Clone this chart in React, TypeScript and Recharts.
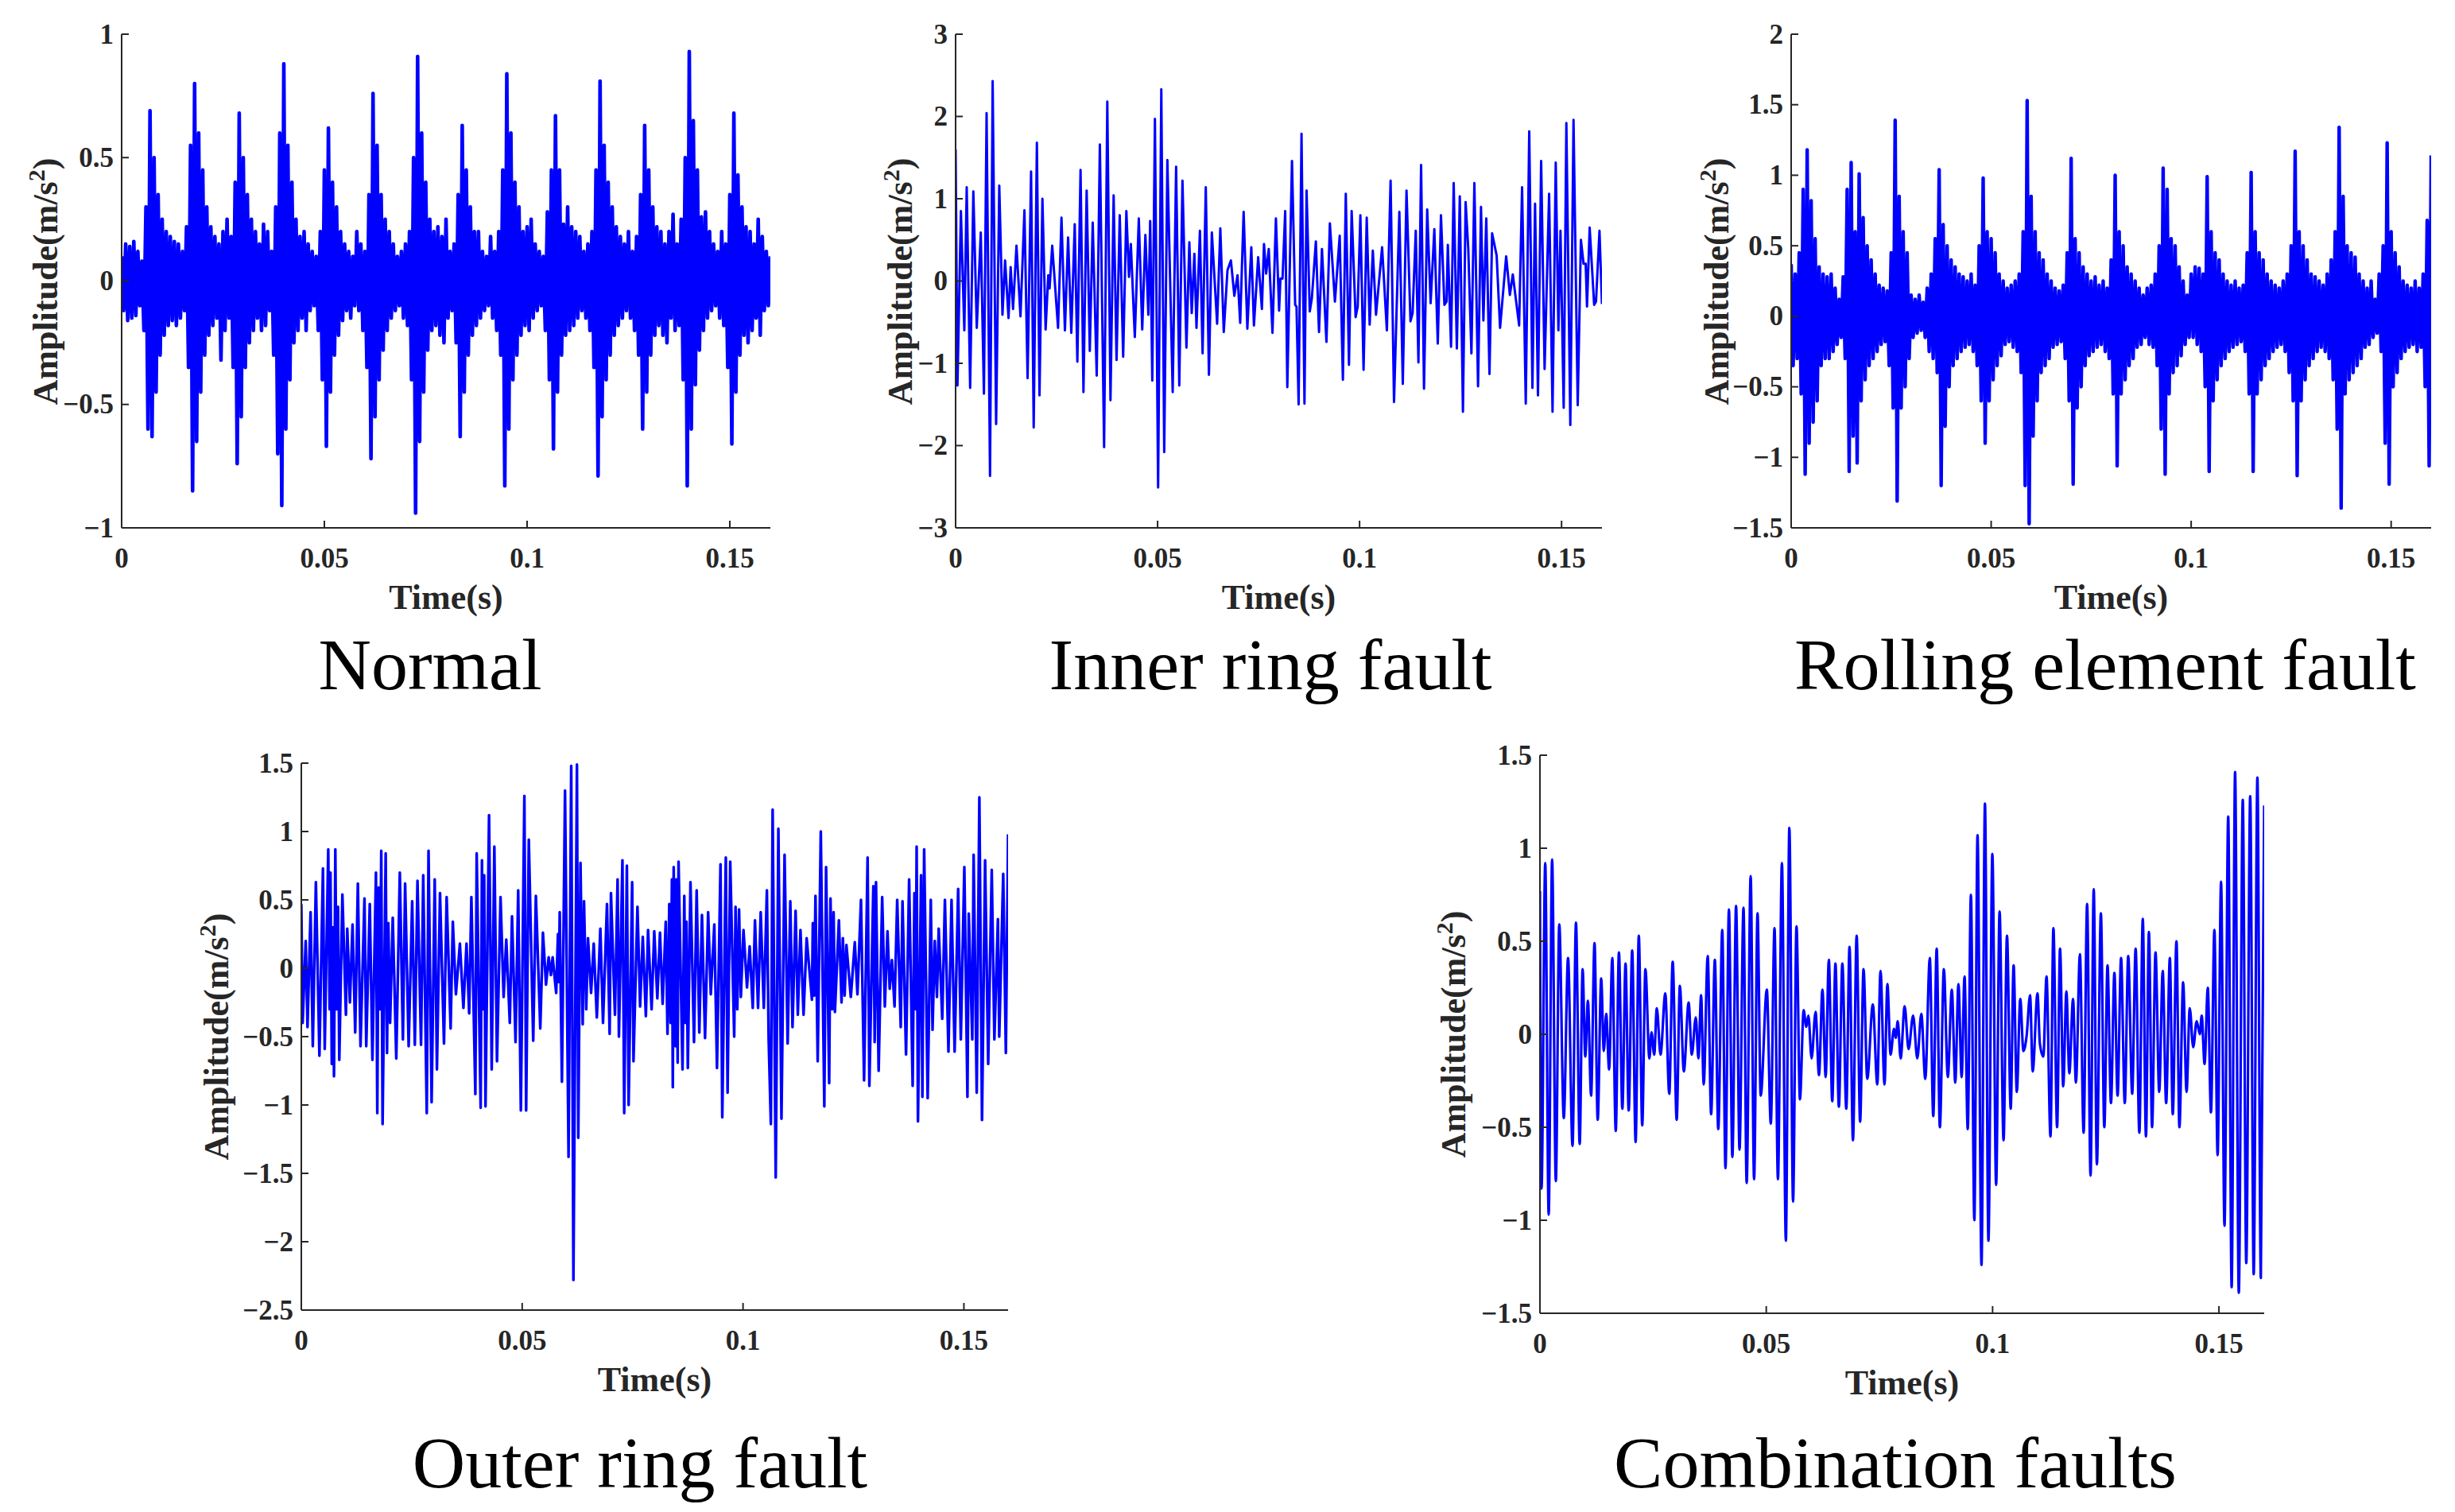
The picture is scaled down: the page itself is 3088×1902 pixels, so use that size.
import React from "react";
import { LineChart, Line, XAxis, YAxis } from "recharts";

const FONT = '"Liberation Serif", "Times New Roman", Times, serif';
const INK = "#262626";
const BLUE = "#0000ff";

const X_TICKS = [0, 0.05, 0.1, 0.15];

// Normal: positive swings on whole ms, negative swings half a ms later
const NORMAL_UP = [
  0.1, 0.15, 0.14, 0.16, 0.12, 0.08, 0.3, 0.69, 0.5, 0.35,
  0.25, 0.2, 0.18, 0.16, 0.15, 0.12, 0.22, 0.55, 0.8, 0.6,
  0.45, 0.3, 0.22, 0.18, 0.15, 0.2, 0.25, 0.18, 0.4, 0.68,
  0.5, 0.35, 0.25, 0.2, 0.15, 0.23, 0.2, 0.12, 0.3, 0.6,
  0.88, 0.55, 0.4, 0.25, 0.18, 0.2, 0.15, 0.12, 0.1, 0.2,
  0.45, 0.62, 0.4, 0.3, 0.2, 0.15, 0.12, 0.1, 0.2, 0.15,
  0.12, 0.35, 0.76, 0.55, 0.35, 0.25, 0.2, 0.15, 0.1, 0.12,
  0.15, 0.2, 0.5, 0.91, 0.6, 0.4, 0.25, 0.2, 0.22, 0.18,
  0.25, 0.12, 0.15, 0.35, 0.63, 0.45, 0.3, 0.2, 0.2, 0.12,
  0.1, 0.18, 0.12, 0.2, 0.45, 0.84, 0.6, 0.4, 0.3, 0.2,
  0.22, 0.25, 0.15, 0.12, 0.1, 0.28, 0.45, 0.67, 0.45, 0.23,
  0.3, 0.22, 0.2, 0.18, 0.12, 0.15, 0.2, 0.45, 0.81, 0.55,
  0.4, 0.3, 0.22, 0.18, 0.15, 0.2, 0.12, 0.18, 0.35, 0.63,
  0.45, 0.3, 0.22, 0.2, 0.15, 0.2, 0.27, 0.15, 0.25, 0.5,
  0.93, 0.65, 0.45, 0.26, 0.28, 0.2, 0.15, 0.12, 0.2, 0.15,
  0.35, 0.68, 0.43, 0.3, 0.22, 0.2, 0.15, 0.25, 0.18, 0.12,
  0.1,
];
const NORMAL_DOWN = [
  -0.12, -0.16, -0.15, -0.14, -0.1, -0.2, -0.6, -0.63, -0.45, -0.3,
  -0.22, -0.18, -0.16, -0.18, -0.15, -0.12, -0.35, -0.85, -0.65, -0.45,
  -0.3, -0.22, -0.18, -0.15, -0.32, -0.2, -0.15, -0.35, -0.74, -0.55,
  -0.35, -0.25, -0.2, -0.15, -0.2, -0.18, -0.12, -0.3, -0.7, -0.91,
  -0.6, -0.4, -0.25, -0.2, -0.15, -0.2, -0.12, -0.1, -0.2, -0.4,
  -0.67, -0.45, -0.3, -0.22, -0.16, -0.12, -0.15, -0.1, -0.12, -0.2,
  -0.35, -0.72, -0.55, -0.4, -0.28, -0.2, -0.15, -0.12, -0.1, -0.15,
  -0.18, -0.4, -0.94, -0.65, -0.45, -0.28, -0.2, -0.18, -0.22, -0.25,
  -0.15, -0.12, -0.25, -0.63, -0.45, -0.3, -0.22, -0.18, -0.15, -0.12,
  -0.1, -0.15, -0.2, -0.3, -0.83, -0.6, -0.4, -0.3, -0.22, -0.18,
  -0.2, -0.15, -0.12, -0.1, -0.2, -0.4, -0.68, -0.45, -0.3, -0.22,
  -0.2, -0.18, -0.15, -0.12, -0.15, -0.2, -0.35, -0.79, -0.55, -0.4,
  -0.3, -0.22, -0.18, -0.15, -0.12, -0.15, -0.2, -0.3, -0.6, -0.45,
  -0.3, -0.22, -0.18, -0.22, -0.25, -0.15, -0.2, -0.18, -0.4, -0.83,
  -0.6, -0.42, -0.28, -0.2, -0.15, -0.12, -0.1, -0.15, -0.18, -0.35,
  -0.66, -0.45, -0.3, -0.22, -0.25, -0.2, -0.15, -0.22, -0.12, -0.1,
];

const ROLLING_UP = [
  0.37, 0.3, 0.45, 0.9, 1.18, 0.82, 0.55, 0.35, 0.3, 0.28,
  0.3, 0.2, 0.12, 0.28, 0.9, 1.09, 0.6, 1.01, 0.7, 0.5,
  0.4, 0.3, 0.22, 0.2, 0.18, 0.45, 1.39, 0.85, 0.6, 0.45,
  0.15, 0.12, 0.15, 0.1, 0.2, 0.3, 0.55, 1.04, 0.65, 0.5,
  0.4, 0.35, 0.3, 0.28, 0.25, 0.3, 0.22, 0.5, 0.98, 0.6,
  0.55, 0.45, 0.3, 0.25, 0.2, 0.22, 0.25, 0.3, 0.6, 1.53,
  0.85, 0.6, 0.45, 0.4, 0.3, 0.25, 0.2, 0.18, 0.22, 0.45,
  1.12, 0.55, 0.45, 0.35, 0.3, 0.25, 0.28, 0.22, 0.25, 0.2,
  0.4, 1.0, 0.6, 0.5, 0.35, 0.3, 0.25, 0.2, 0.15, 0.2,
  0.22, 0.3, 0.5, 1.05, 0.9, 0.55, 0.5, 0.35, 0.25, 0.15,
  0.3, 0.35, 0.34, 0.3, 0.99, 0.6, 0.45, 0.4, 0.3, 0.25,
  0.22, 0.25, 0.2, 0.22, 0.45, 1.02, 0.6, 0.45, 0.4, 0.3,
  0.25, 0.22, 0.2, 0.25, 0.3, 0.5, 1.17, 0.6, 0.5, 0.4,
  0.3, 0.28, 0.25, 0.22, 0.3, 0.4, 0.6, 1.34, 0.85, 0.5,
  0.45, 0.42, 0.3, 0.25, 0.2, 0.25, 0.12, 0.3, 0.5, 1.23,
  0.6, 0.45, 0.35, 0.25, 0.22, 0.2, 0.25, 0.2, 0.3, 0.68,
  1.14,
];
const ROLLING_DOWN = [
  -0.35, -0.3, -0.55, -1.12, -0.9, -0.75, -0.6, -0.35, -0.3, -0.3,
  -0.25, -0.2, -0.15, -0.3, -1.1, -0.85, -1.04, -0.6, -0.45, -0.35,
  -0.3, -0.25, -0.2, -0.18, -0.35, -0.65, -1.31, -0.65, -0.5, -0.3,
  -0.15, -0.12, -0.1, -0.15, -0.25, -0.3, -0.4, -1.2, -0.78, -0.5,
  -0.35, -0.3, -0.25, -0.22, -0.2, -0.25, -0.35, -0.6, -0.9, -0.6,
  -0.45, -0.35, -0.28, -0.2, -0.18, -0.22, -0.25, -0.4, -1.2, -1.47,
  -0.85, -0.6, -0.4, -0.35, -0.3, -0.22, -0.2, -0.18, -0.3, -0.6,
  -1.19, -0.65, -0.5, -0.35, -0.28, -0.25, -0.22, -0.2, -0.25, -0.3,
  -0.55, -1.06, -0.55, -0.45, -0.35, -0.3, -0.22, -0.2, -0.15, -0.2,
  -0.22, -0.35, -0.8, -1.12, -0.55, -0.4, -0.35, -0.28, -0.2, -0.15,
  -0.15, -0.2, -0.25, -0.5, -1.1, -0.6, -0.45, -0.35, -0.3, -0.25,
  -0.22, -0.2, -0.18, -0.25, -0.55, -1.1, -0.55, -0.45, -0.35, -0.3,
  -0.25, -0.22, -0.2, -0.25, -0.4, -0.6, -1.13, -0.6, -0.45, -0.35,
  -0.3, -0.25, -0.22, -0.25, -0.3, -0.45, -0.8, -1.36, -0.55, -0.45,
  -0.4, -0.35, -0.3, -0.22, -0.2, -0.15, -0.12, -0.25, -0.9, -1.19,
  -0.5, -0.4, -0.3, -0.25, -0.22, -0.2, -0.25, -0.22, -0.5, -1.06,
];

// [time ms, amplitude] turning points
const INNER = [
  [0, 1.6], [0.46, -1.27], [1.31, 0.85], [2.16, -0.6], [2.75, 1.14], [3.6, -1.3], [4.39, 1.09], [5.24, -0.57], [6.23, 0.59], [7.01, -1.37],
  [7.67, 2.04], [8.52, -2.37], [9.17, 2.43], [10.03, -1.74], [10.81, 1.16], [11.6, -0.41], [12.25, 0.25], [13.1, -0.45], [13.63, 0.17], [14.22, -0.34],
  [15.07, 0.43], [16.06, -0.43], [17.04, 0.86], [17.82, -1.18], [18.68, 1.33], [19.33, -1.78], [20.12, 1.68], [20.77, -1.39], [21.49, 1.0], [22.28, -0.59],
  [22.94, 0.07], [23.26, -0.09], [23.92, 0.43], [25.36, -0.57], [26.21, 0.77], [27.06, -0.6], [27.85, 0.53], [28.64, -0.63], [29.49, 0.69], [30.14, -0.98],
  [30.93, 1.35], [31.65, -1.35], [32.44, 1.1], [33.22, -0.85], [33.94, 0.71], [34.93, -1.15], [35.71, 1.66], [36.76, -2.02], [37.55, 2.18], [38.34, -1.45],
  [39.12, 1.04], [39.84, -0.96], [40.63, 0.8], [41.48, -0.92], [42.27, 0.85], [42.92, 0.05], [43.38, 0.45], [44.36, -0.68], [45.35, 0.76], [46.2, -0.59],
  [46.98, 0.56], [47.71, -0.41], [48.17, 0.73], [48.69, -1.21], [49.34, 1.97], [50.13, -2.51], [50.92, 2.33], [51.64, -2.08], [52.42, 1.47], [53.74, -1.35],
  [54.59, 1.39], [55.37, -1.27], [56.16, 1.22], [57.14, -0.81], [57.86, 0.47], [58.45, -0.39], [59.11, 0.33], [59.63, -0.57], [60.48, 0.61], [61.14, -0.88],
  [61.93, 1.14], [62.71, -1.14], [63.43, 0.59], [64.74, -0.52], [65.53, 0.64], [66.38, -0.62], [67.3, 0.13], [68.15, 0.25], [69.0, -0.18], [69.79, 0.07],
  [70.45, -0.51], [71.3, 0.84], [72.22, -0.58], [73.2, 0.41], [73.85, -0.54], [74.9, 0.29], [75.82, -0.34], [76.34, 0.45], [76.87, 0.09], [77.52, 0.39],
  [78.44, -0.63], [79.29, 0.76], [80.08, -0.36], [80.41, 0.03], [80.93, 0.03], [81.59, 0.85], [82.11, -1.29], [83.27, 1.46], [84.06, -0.29], [84.39, -0.31],
  [84.91, -1.5], [85.63, 1.79], [86.36, -1.49], [86.88, 1.1], [87.67, -0.37], [88.19, -0.21], [89.18, 0.48], [89.96, -0.62], [90.69, 0.39], [91.8, -0.74],
  [92.65, 0.7], [93.9, -0.25], [95.08, 0.55], [95.87, -1.2], [96.59, 1.06], [97.38, -1.02], [98.04, 0.85], [99.02, -0.44], [99.54, -0.31], [100.2, 0.8],
  [100.99, -1.08], [101.77, 0.77], [102.5, -0.53], [103.28, 0.37], [104.07, -0.41], [105.58, 0.41], [106.76, -0.6], [107.68, 1.22], [108.53, -1.47], [109.85, 0.84],
  [110.7, -1.25], [111.62, 1.1], [112.6, -0.49], [113.13, -0.39], [113.91, 0.61], [114.57, -0.99], [115.23, 1.41], [115.95, -1.31], [116.74, 0.87], [117.59, -0.27],
  [118.51, 0.63], [119.36, -0.76], [120.15, 0.8], [121.0, -0.29], [121.53, -0.25], [121.85, 0.44], [122.64, -0.8], [123.3, 1.19], [124.08, -0.82], [124.81, 1.03],
  [125.59, -1.59], [126.25, 0.96], [126.91, 0.39], [127.69, -0.88], [128.42, 1.19], [129.33, -1.28], [130.06, 0.9], [130.65, -0.48], [131.37, 0.76], [132.16, -1.13],
  [132.81, 0.58], [133.93, 0.31], [134.78, -0.57], [136.29, 0.3], [137.21, -0.17], [137.93, 0.08], [139.5, -0.54], [140.23, 1.14], [141.14, -1.49], [142.0, 1.82],
  [142.79, -1.3], [143.44, 0.94], [144.16, -1.39], [144.95, 1.46], [145.8, -1.07], [146.92, 1.06], [147.77, -1.59], [148.56, 1.44], [149.22, -0.6], [149.74, 0.61],
  [150.53, -1.54], [151.19, 1.92], [152.17, -1.75], [152.96, 1.96], [154.0, -1.51], [154.79, 0.5], [155.45, 0.21], [155.97, 0.21], [156.3, -0.31], [156.96, 0.65],
  [158.07, -0.29], [158.53, -0.25], [159.39, 0.61], [160, -0.28],
];

const OUTER = [
  [0, 0.47], [0.3, -0.4], [1.0, 0.2], [1.4, -0.43], [2.1, 0.41], [2.6, -0.57], [3.3, 0.63], [4.1, -0.64], [4.9, 0.73], [5.3, -0.59],
  [6.1, 0.87], [6.4, -0.3], [6.6, 0.7], [6.9, -0.7], [7.2, 0.3], [7.4, -0.79], [7.7, 0.87], [8.0, -0.3], [8.3, 0.45], [8.6, -0.67],
  [9.3, 0.54], [10.1, -0.34], [10.4, 0.29], [11.0, -0.25], [11.6, 0.32], [12.2, -0.47], [12.8, 0.62], [13.4, -0.57], [14.3, 0.51], [14.7, -0.57],
  [15.5, 0.47], [16.1, -0.67], [16.9, 0.7], [17.2, -1.06], [17.5, 0.59], [17.8, -0.3], [18.1, 0.86], [18.4, -1.14], [19.1, 0.84], [19.4, -0.62],
  [19.7, 0.33], [20.1, -0.4], [20.7, 0.37], [21.5, -0.66], [22.3, 0.7], [23.0, -0.52], [23.5, 0.62], [24.3, -0.57], [25.1, 0.49], [25.7, -0.56],
  [26.3, 0.64], [27.1, -0.56], [27.6, 0.68], [28.4, -1.06], [28.8, 0.86], [29.5, -0.98], [30.2, 0.65], [30.7, -0.74], [31.4, 0.55], [32.3, -0.55],
  [32.9, 0.52], [33.8, -0.44], [34.3, 0.34], [35.0, -0.19], [35.9, 0.18], [36.7, -0.29], [37.4, 0.18], [38.0, -0.33], [38.5, 0.52], [39.4, -0.92],
  [39.7, 0.84], [40.6, -1.02], [40.9, 0.79], [41.1, -0.3], [41.4, 0.68], [41.7, -1.01], [42.5, 1.12], [43.1, -0.74], [43.7, 0.89], [44.3, -0.68],
  [45.1, 0.52], [45.8, -0.21], [46.4, 0.21], [47.2, -0.4], [47.7, 0.38], [48.5, -0.54], [49.1, 0.57], [49.7, -1.04], [50.5, 1.26], [50.9, -1.04],
  [51.5, 0.94], [52.5, -0.53], [53.1, 0.53], [54.1, -0.44], [54.7, 0.26], [55.4, -0.12], [56.0, 0.08], [56.5, -0.05], [56.9, 0.08], [57.7, -0.18],
  [58.1, 0.25], [58.3, -0.1], [58.5, 0.41], [59.0, -0.83], [59.7, 1.3], [60.5, -1.38], [61.1, 1.48], [61.6, -2.28], [62.4, 1.49], [62.7, -1.24],
  [63.2, 0.77], [63.7, -0.41], [64.0, 0.49], [64.5, -0.3], [64.9, 0.22], [65.6, -0.18], [66.2, 0.18], [66.9, -0.36], [67.7, 0.29], [68.3, -0.4],
  [69.2, 0.47], [69.8, -0.48], [70.1, 0.55], [71.0, -0.34], [71.6, 0.65], [71.9, -0.5], [72.7, 0.79], [73.1, -1.06], [73.7, 0.75], [74.1, -1.0],
  [74.9, 0.63], [75.2, -0.68], [76.1, 0.45], [76.7, -0.28], [77.3, 0.23], [78.0, -0.35], [78.5, 0.28], [79.3, -0.3], [79.9, 0.27], [80.6, -0.22],
  [81.2, 0.26], [81.8, -0.26], [82.5, 0.34], [82.9, -0.48], [83.3, 0.47], [83.6, -0.4], [83.9, 0.65], [84.1, -0.87], [84.3, 0.74], [84.7, -0.57],
  [84.9, 0.65], [85.2, -0.69], [85.4, 0.78], [86.3, -0.74], [86.7, 0.53], [87.0, -0.4], [87.2, 0.34], [87.5, -0.73], [88.1, 0.63], [88.9, -0.54],
  [89.5, 0.57], [90.1, -0.47], [90.7, 0.39], [91.4, -0.51], [92.1, 0.41], [92.7, -0.19], [93.5, 0.32], [94.1, -0.73], [94.9, 0.76], [95.3, -1.09],
  [96.1, 0.81], [96.5, -0.91], [97.1, 0.78], [98.0, -0.5], [98.3, 0.45], [98.7, -0.3], [99.1, 0.43], [99.5, -0.21], [100.1, 0.28], [100.9, -0.14],
  [101.5, 0.16], [102.2, -0.29], [102.7, 0.35], [103.4, -0.29], [104.0, 0.41], [104.7, -0.29], [105.4, 0.57], [105.8, -0.52], [106.3, -1.14], [106.7, 1.16],
  [107.4, -1.53], [108.0, 1.02], [108.7, -1.1], [109.4, 0.83], [110.1, -0.55], [110.7, 0.49], [111.2, -0.43], [111.9, 0.42], [112.4, -0.34], [113.0, 0.28],
  [113.7, -0.34], [114.4, 0.22], [115.6, -0.23], [115.8, 0.33], [116.1, -0.2], [116.4, 0.53], [116.9, -0.68], [117.6, 1.0], [118.4, -1.01], [118.8, 0.74],
  [119.5, -0.84], [119.8, 0.51], [120.2, -0.3], [120.5, 0.41], [120.8, -0.32], [121.7, 0.35], [122.3, -0.25], [122.6, 0.22], [123.0, -0.2], [123.4, 0.17],
  [124.4, -0.21], [125.3, 0.19], [125.9, -0.19], [126.7, 0.5], [127.4, -0.82], [128.2, 0.81], [128.6, -0.86], [129.5, 0.6], [129.8, -0.54], [130.1, 0.63],
  [130.7, -0.75], [131.5, 0.52], [132.1, -0.28], [132.7, 0.27], [133.2, -0.15], [133.7, 0.06], [134.3, -0.28], [134.9, 0.5], [135.7, -0.43], [136.1, 0.49],
  [136.9, -0.63], [137.6, 0.65], [138.4, -0.86], [138.8, 0.55], [139.1, -0.3], [139.3, 0.89], [139.6, -1.12], [140.3, 0.68], [140.6, -0.94], [141.0, 0.87],
  [141.8, -0.95], [142.5, 0.5], [142.9, -0.45], [143.4, 0.2], [143.9, -0.21], [144.3, 0.29], [145.1, -0.37], [145.7, 0.5], [146.5, -0.61], [147.2, 0.5],
  [147.9, -0.61], [148.7, 0.58], [149.3, -0.52], [150.1, 0.74], [150.8, -0.94], [151.1, 0.4], [151.9, -0.52], [152.2, 0.83], [152.9, -0.91], [153.5, 1.25],
  [154.1, -1.11], [154.8, 0.79], [155.5, -0.7], [156.3, 0.72], [156.9, -0.52], [157.7, 0.36], [158.0, -0.5], [158.9, 0.69], [159.5, -0.62], [160, 0.98],
];

const COMBINATION = [
  [0, 0.77], [0.35, -0.83], [1.17, 0.92], [1.93, -0.97], [2.69, 0.94], [3.51, -0.79], [4.27, 0.59], [5.27, -0.45], [6.21, 0.41], [7.2, -0.6],
  [7.96, 0.6], [8.78, -0.59], [9.43, 0.35], [10.01, -0.12], [10.6, 0.18], [11.3, -0.33], [12.06, 0.49], [12.76, -0.46], [13.53, 0.3], [14.11, -0.09],
  [14.64, 0.11], [15.28, -0.19], [15.98, 0.41], [16.75, -0.52], [17.45, 0.44], [18.21, -0.4], [18.91, 0.38], [19.61, -0.41], [20.38, 0.45], [21.14, -0.58],
  [21.84, 0.53], [22.6, -0.49], [23.3, 0.35], [24.18, -0.13], [24.65, 0.01], [25.24, -0.11], [25.82, 0.14], [26.64, -0.11], [27.69, 0.22], [28.57, -0.32],
  [29.33, 0.39], [30.21, -0.46], [30.91, 0.26], [31.79, -0.2], [32.85, 0.17], [33.55, -0.11], [34.43, 0.09], [35.01, -0.13], [35.6, 0.21], [36.18, -0.27],
  [37.06, 0.42], [37.82, -0.43], [38.64, 0.4], [39.4, -0.51], [40.28, 0.56], [40.99, -0.72], [41.75, 0.67], [42.51, -0.66], [43.33, 0.69], [44.09, -0.62],
  [44.97, 0.68], [45.67, -0.8], [46.55, 0.85], [47.31, -0.78], [48.07, 0.65], [48.77, -0.33], [50.12, 0.24], [51.0, -0.48], [51.82, 0.57], [52.58, -0.78],
  [53.46, 0.92], [54.33, -1.11], [55.1, 1.11], [55.92, -0.9], [56.68, 0.58], [57.44, -0.35], [58.26, 0.13], [58.84, 0.04], [59.31, 0.1], [60.01, -0.13],
  [60.89, 0.12], [61.65, -0.22], [62.41, 0.24], [63.12, -0.23], [63.82, 0.4], [64.58, -0.36], [65.28, 0.38], [66.04, -0.39], [66.81, 0.38], [67.68, -0.4],
  [68.39, 0.47], [69.15, -0.57], [69.97, 0.53], [70.73, -0.47], [71.49, 0.35], [72.31, -0.24], [73.54, 0.16], [74.53, -0.27], [75.24, 0.34], [76.12, -0.27],
  [76.76, 0.27], [77.46, -0.11], [78.22, 0.03], [78.6, -0.02], [79.04, 0.07], [79.69, -0.13], [80.57, 0.15], [81.44, -0.08], [82.44, 0.1], [83.37, -0.13],
  [84.25, 0.11], [85.13, -0.24], [86.13, 0.41], [86.89, -0.44], [87.65, 0.46], [88.35, -0.5], [89.23, 0.35], [90.11, -0.23], [90.99, 0.24], [91.75, -0.26],
  [92.45, 0.27], [93.16, -0.23], [93.8, 0.31], [94.51, -0.51], [95.21, 0.75], [95.97, -1.0], [96.67, 1.07], [97.55, -1.24], [98.31, 1.24], [99.08, -1.11],
  [99.95, 0.97], [100.78, -0.81], [101.54, 0.66], [102.42, -0.57], [103.18, 0.53], [104.0, -0.4], [104.64, 0.37], [105.35, -0.31], [106.11, 0.19], [106.81, -0.09],
  [107.51, -0.01], [108.28, 0.21], [108.86, -0.2], [109.92, 0.22], [110.44, -0.05], [111.21, -0.12], [111.91, 0.31], [112.79, -0.55], [113.43, 0.57], [114.25, -0.5],
  [114.9, 0.46], [115.6, -0.28], [116.3, 0.23], [116.95, -0.21], [117.77, 0.19], [118.41, -0.26], [119.29, 0.43], [120.11, -0.53], [120.88, 0.7], [121.64, -0.76],
  [122.34, 0.78], [123.04, -0.7], [123.92, 0.65], [124.68, -0.5], [125.39, 0.37], [126.15, -0.37], [126.91, 0.33], [127.61, -0.33], [128.38, 0.41], [129.2, -0.37],
  [129.96, 0.42], [130.84, -0.32], [131.6, 0.46], [132.42, -0.53], [133.18, 0.62], [133.88, -0.55], [134.53, 0.55], [135.23, -0.5], [135.99, 0.44], [136.81, -0.31],
  [137.58, 0.34], [138.34, -0.37], [139.16, 0.41], [139.8, -0.43], [140.62, 0.5], [141.27, -0.5], [142.09, 0.28], [142.85, -0.31], [143.55, 0.14], [144.32, -0.07],
  [145.08, 0.07], [145.78, 0.0], [146.19, 0.1], [146.83, -0.16], [147.54, 0.25], [148.24, -0.42], [149.0, 0.56], [149.71, -0.65], [150.47, 0.82], [151.23, -1.03],
  [152.05, 1.17], [152.81, -1.36], [153.57, 1.41], [154.39, -1.39], [155.27, 1.26], [156.04, -1.23], [156.91, 1.28], [157.68, -1.29], [158.5, 1.38], [159.26, -1.31],
  [160, 1.23],
];

type Row = { t: number; v: number };

function fromPairs(pairs: number[][]): Row[] {
  return pairs.map(([ms, v]) => ({ t: ms / 1000, v }));
}

function interleave(up: number[], down: number[]): Row[] {
  const rows: Row[] = [];
  up.forEach((v, k) => {
    rows.push({ t: k / 1000, v });
    if (k < down.length) rows.push({ t: (k + 0.5) / 1000, v: down[k] });
  });
  return rows;
}

const fmt = (v: number) => (v < 0 ? "\u2212" : "") + String(Math.abs(v));

function XTick({ x, y, payload }: any) {
  return (
    <g>
      <line x1={x} y1={y} x2={x} y2={y - 9} stroke={INK} strokeWidth={2} />
      <text x={x} y={y + 38} dy="0.33em" textAnchor="middle" fontFamily={FONT} fontWeight="bold" fontSize={35} fill={INK}>
        {fmt(payload.value)}
      </text>
    </g>
  );
}

function YTick({ x, y, payload }: any) {
  return (
    <g>
      <line x1={x} y1={y} x2={x + 9} y2={y} stroke={INK} strokeWidth={2} />
      <text x={x - 10} y={y} dy="0.33em" textAnchor="end" fontFamily={FONT} fontWeight="bold" fontSize={35} fill={INK}>
        {fmt(payload.value)}
      </text>
    </g>
  );
}

type Panel = {
  title: string;
  data: Row[];
  left: number;
  top: number;
  right: number;
  bottom: number;
  yDomain: [number, number];
  yTicks: number[];
  ampX: number;
  titleX: number;
  titleY: number;
  curve: "linear" | "monotone";
  stroke: number;
};

const PANELS: Panel[] = [
  {
    title: "Normal", data: interleave(NORMAL_UP, NORMAL_DOWN),
    left: 153, top: 43, right: 969, bottom: 664,
    yDomain: [-1, 1], yTicks: [-1, -0.5, 0, 0.5, 1],
    ampX: 58, titleX: 541, titleY: 836, curve: "linear", stroke: 4.6,
  },
  {
    title: "Inner ring fault", data: fromPairs(INNER),
    left: 1202, top: 43, right: 2015, bottom: 664,
    yDomain: [-3, 3], yTicks: [-3, -2, -1, 0, 1, 2, 3],
    ampX: 1133, titleX: 1598, titleY: 836, curve: "linear", stroke: 3,
  },
  {
    title: "Rolling element fault", data: interleave(ROLLING_UP, ROLLING_DOWN),
    left: 2253, top: 43, right: 3058, bottom: 664,
    yDomain: [-1.5, 2], yTicks: [-1.5, -1, -0.5, 0, 0.5, 1, 1.5, 2],
    ampX: 2160, titleX: 2648, titleY: 836, curve: "linear", stroke: 4.4,
  },
  {
    title: "Outer ring fault", data: fromPairs(OUTER),
    left: 379, top: 960, right: 1268, bottom: 1648,
    yDomain: [-2.5, 1.5], yTicks: [-2.5, -2, -1.5, -1, -0.5, 0, 0.5, 1, 1.5],
    ampX: 273, titleX: 805, titleY: 1840, curve: "linear", stroke: 3.4,
  },
  {
    title: "Combination faults", data: fromPairs(COMBINATION),
    left: 1937, top: 950, right: 2848, bottom: 1652,
    yDomain: [-1.5, 1.5], yTicks: [-1.5, -1, -0.5, 0, 0.5, 1, 1.5],
    ampX: 1829, titleX: 2384, titleY: 1840, curve: "monotone", stroke: 3.2,
  },
];

const Y_AXIS_W = 140;
const X_AXIS_H = 120;
const PAD_T = 20;
const PAD_R = 20;

function centered(x: number, y: number, extra: React.CSSProperties = {}): React.CSSProperties {
  return {
    position: "absolute",
    left: x,
    top: y,
    transform: "translate(-50%, -50%)",
    whiteSpace: "nowrap",
    fontFamily: FONT,
    ...extra,
  };
}

function SignalPanel({ p }: { p: Panel }) {
  const width = p.right - p.left + Y_AXIS_W + PAD_R;
  const height = p.bottom - p.top + PAD_T + X_AXIS_H;
  const midX = (p.left + p.right) / 2;
  const midY = (p.top + p.bottom) / 2;
  return (
    <>
      <div style={{ position: "absolute", left: p.left - Y_AXIS_W, top: p.top - PAD_T }}>
        <LineChart width={width} height={height} data={p.data} margin={{ top: PAD_T, right: PAD_R, bottom: 0, left: 0 }}>
          <XAxis
            dataKey="t"
            type="number"
            domain={[0, 0.16]}
            ticks={X_TICKS}
            interval={0}
            allowDataOverflow
            height={X_AXIS_H}
            tickSize={0}
            tickMargin={0}
            tickLine={false}
            axisLine={{ stroke: INK, strokeWidth: 2 }}
            tick={(props: any) => <XTick {...props} />}
          />
          <YAxis
            type="number"
            domain={p.yDomain}
            ticks={p.yTicks}
            interval={0}
            allowDataOverflow
            width={Y_AXIS_W}
            tickSize={0}
            tickMargin={0}
            tickLine={false}
            axisLine={{ stroke: INK, strokeWidth: 2 }}
            tick={(props: any) => <YTick {...props} />}
          />
          <Line
            dataKey="v"
            type={p.curve}
            stroke={BLUE}
            strokeWidth={p.stroke}
            strokeLinejoin="round"
            dot={false}
            activeDot={false}
            isAnimationActive={false}
          />
        </LineChart>
      </div>
      <div style={centered(midX, p.bottom + 88, { fontWeight: "bold", fontSize: 44, color: INK, lineHeight: "50px" })}>
        Time(s)
      </div>
      <div
        style={centered(p.ampX, midY, {
          transform: "translate(-50%, -50%) rotate(-90deg)",
          fontWeight: "bold",
          fontSize: 44,
          color: INK,
          lineHeight: "50px",
        })}
      >
        Amplitude(m/s<sup style={{ fontSize: 30, lineHeight: 0 }}>2</sup>)
      </div>
      <div style={centered(p.titleX, p.titleY, { fontSize: 92, color: "#000", lineHeight: "100px" })}>{p.title}</div>
    </>
  );
}

export default function App() {
  return (
    <div style={{ position: "absolute", left: 0, top: 0, width: 3088, height: 1902, background: "#fff", overflow: "hidden" }}>
      {PANELS.map((p) => (
        <SignalPanel key={p.title} p={p} />
      ))}
    </div>
  );
}
